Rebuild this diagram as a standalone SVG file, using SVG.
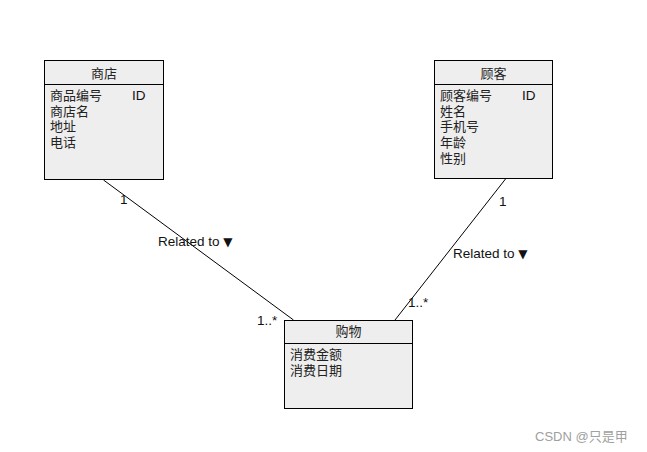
<svg xmlns="http://www.w3.org/2000/svg" width="647" height="452" viewBox="0 0 647 452">
<style>
.box{fill:#eeeeee;stroke:#000;stroke-width:1}
.sep{stroke:#000;stroke-width:1}
.cn{font-family:"Noto Sans CJK SC","Liberation Sans",sans-serif;font-size:13px;fill:#222}
.hd{text-anchor:middle}
.lbl{font-family:"Liberation Sans",Arial,sans-serif;font-size:13.5px;fill:#111}
.conn{stroke:#000;stroke-width:1;fill:none}
</style>
<rect width="647" height="452" fill="#fff"/>
<g id="connectors">
<line class="conn" x1="103.5" y1="180" x2="293.5" y2="320"/>
<line class="conn" x1="505.5" y1="179" x2="395" y2="320"/>
<text class="lbl" x="120" y="204">1</text>
<text class="lbl" x="158" y="246">Related to <tspan font-family="DejaVu Sans" font-size="12">▼</tspan></text>
<text class="lbl" x="257" y="325">1..*</text>
<text class="lbl" x="499" y="206">1</text>
<text class="lbl" x="453" y="258">Related to <tspan font-family="DejaVu Sans" font-size="12">▼</tspan></text>
<text class="lbl" x="408" y="307">1..*</text>
</g>
<g id="store">
<rect class="box" x="44.5" y="60.5" width="119" height="119"/>
<line class="sep" x1="44.5" y1="84.5" x2="163.5" y2="84.5"/>
<text class="cn hd" x="104" y="78">商店</text>
<text class="cn" x="50" y="100">商品编号</text>
<text class="lbl" x="132" y="100">ID</text>
<text class="cn" x="50" y="115.7">商店名</text>
<text class="cn" x="50" y="131.4">地址</text>
<text class="cn" x="50" y="147">电话</text>
</g>
<g id="customer">
<rect class="box" x="434.5" y="60.5" width="118" height="118"/>
<line class="sep" x1="434.5" y1="84.5" x2="552.5" y2="84.5"/>
<text class="cn hd" x="493.5" y="78">顾客</text>
<text class="cn" x="440" y="100">顾客编号</text>
<text class="lbl" x="522" y="100">ID</text>
<text class="cn" x="440" y="115.7">姓名</text>
<text class="cn" x="440" y="131.4">手机号</text>
<text class="cn" x="440" y="147">年龄</text>
<text class="cn" x="440" y="162.7">性别</text>
</g>
<g id="purchase">
<rect class="box" x="284.5" y="320.5" width="128" height="88"/>
<line class="sep" x1="284.5" y1="343.5" x2="412.5" y2="343.5"/>
<text class="cn hd" x="348.5" y="336">购物</text>
<text class="cn" x="290" y="359">消费金额</text>
<text class="cn" x="290" y="374.7">消费日期</text>
</g>
<text x="535" y="441" font-family="'Liberation Sans','Noto Sans CJK SC',sans-serif" font-size="13" fill="#a0a0a0">CSDN @只是甲</text>
</svg>
